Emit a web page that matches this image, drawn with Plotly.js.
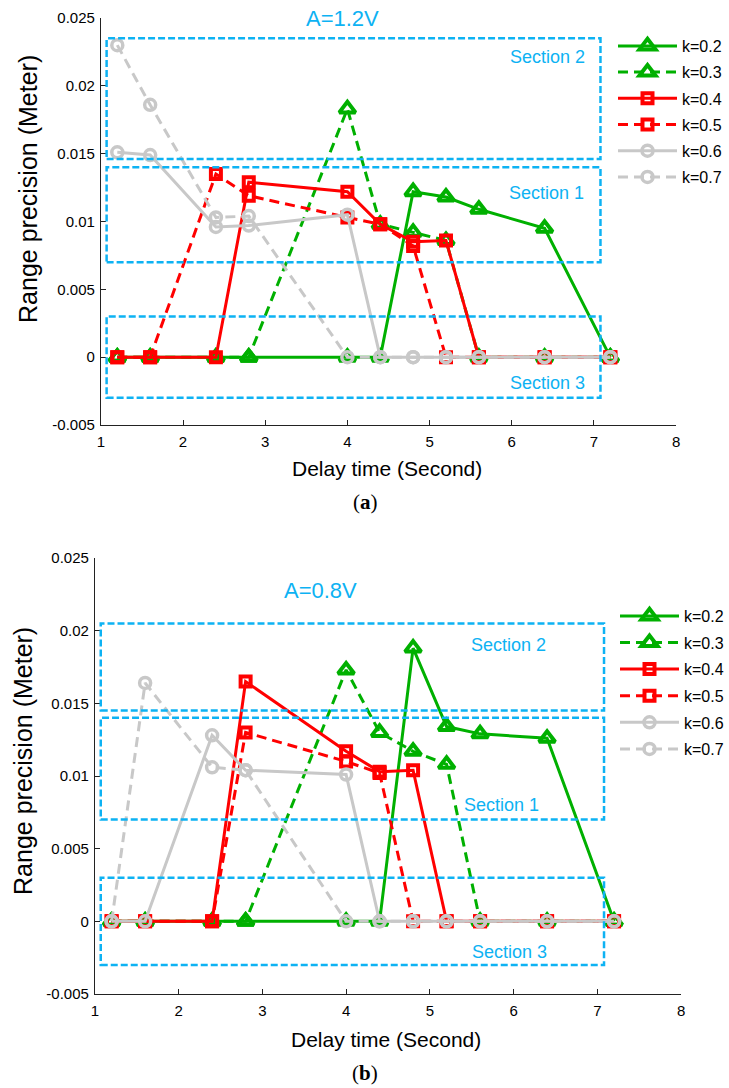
<!DOCTYPE html>
<html>
<head>
<meta charset="utf-8">
<script src="https://cdn.plot.ly/plotly-3.0.1.min.js"></script>
<style>
  html, body { margin: 0; padding: 0; background: #fff; }
  #chart { width: 729px; height: 1088px; }
</style>
</head>
<body>
<div id="chart"></div>
<script>
// Delay times (s) at which range precision was evaluated
const delayTime = [1.2, 1.6, 2.4, 2.8, 4.0, 4.4, 4.8, 5.2, 5.6, 6.4, 7.2];

// Range precision (m), amplitude A = 1.2 V
const precA_k02 = [0, 0, 0, 0, 0, 0, 0.0122, 0.0118, 0.0109, 0.0095, 0];
const precA_k03 = [0, 0, 0, 0, 0.0183, 0.0098, 0.0092, 0.0086, 0, 0, 0];
const precA_k04 = [0, 0, 0, 0.0129, 0.0122, 0.0098, 0.0085, 0.0086, 0, 0, 0];
const precA_k05 = [0, 0, 0.0135, 0.0119, 0.0103, 0.0098, 0.0082, 0, 0, 0, 0];
const precA_k06 = [0.0151, 0.0149, 0.0096, 0.0097, 0.0105, 0, 0, 0, 0, 0, 0];
const precA_k07 = [0.0230, 0.0186, 0.0103, 0.0104, 0, 0, 0, 0, 0, 0, 0];

// Range precision (m), amplitude A = 0.8 V
const precB_k02 = [0, 0, 0, 0, 0, 0, 0.0188, 0.0134, 0.0129, 0.0126, 0];
const precB_k03 = [0, 0, 0, 0, 0.0173, 0.0130, 0.0117, 0.0108, 0, 0, 0];
const precB_k04 = [0, 0, 0, 0.0165, 0.0117, 0.0103, 0.0104, 0, 0, 0, 0];
const precB_k05 = [0, 0, 0, 0.0130, 0.0110, 0.0102, 0, 0, 0, 0, 0];
const precB_k06 = [0, 0, 0.0128, 0.0104, 0.0101, 0, 0, 0, 0, 0, 0];
const precB_k07 = [0, 0.0164, 0.0106, 0.0104, 0, 0, 0, 0, 0, 0, 0];

const seriesNames = ['k=0.2', 'k=0.3', 'k=0.4', 'k=0.5', 'k=0.6', 'k=0.7'];

// Precision bands [low, high] for Section 1, 2, 3
const sectionNames = ['Section 1', 'Section 2', 'Section 3'];
const sectionBandsA = [[0.0070, 0.0140], [0.0146, 0.0235], [-0.003, 0.003]];
const sectionBandsB = [[0.0070, 0.0140], [0.0145, 0.0205], [-0.003, 0.003]];
const sectionSpan = [1.07, 7.08];

const xTicks = [1, 2, 3, 4, 5, 6, 7, 8];
const yTicks = [-0.005, 0, 0.005, 0.01, 0.015, 0.02, 0.025];
const yTickText = ['-0.005', '0', '0.005', '0.01', '0.015', '0.02', '0.025'];

const GREEN = '#00b000', RED = '#ff0000', GREY = '#c8c8c8', BLUE = '#0db2f3';
const FONT = 'Liberation Sans, Arial, Helvetica, sans-serif';
const DASH = '10px,6px';

const styles = [
  { color: GREEN, dash: 'solid', symbol: 'triangle-up-open', size: 14, lw: 4 },
  { color: GREEN, dash: DASH,   symbol: 'triangle-up-open', size: 14, lw: 4 },
  { color: RED,   dash: 'solid', symbol: 'square-open', size: 10, lw: 4 },
  { color: RED,   dash: DASH,   symbol: 'square-open', size: 10, lw: 4 },
  { color: GREY,  dash: 'solid', symbol: 'circle-open', size: 11, lw: 3.5 },
  { color: GREY,  dash: DASH,   symbol: 'circle-open', size: 11, lw: 3.5 }
];

function makeTraces(seriesList, xa, ya, legendId, tag) {
  return seriesList.map((vals, i) => ({
    type: 'scatter',
    mode: 'lines+markers',
    x: delayTime,
    y: vals,
    name: seriesNames[i],
    xaxis: xa, yaxis: ya,
    legend: legendId,
    legendgroup: tag + i,
    line: { color: styles[i].color, width: 3, dash: styles[i].dash },
    marker: {
      symbol: styles[i].symbol, size: styles[i].size, color: styles[i].color,
      line: { color: styles[i].color, width: styles[i].lw }
    },
    cliponaxis: false
  }));
}

const traces = [].concat(
  makeTraces([precA_k02, precA_k03, precA_k04, precA_k05, precA_k06, precA_k07], 'x', 'y', 'legend', 'a'),
  makeTraces([precB_k02, precB_k03, precB_k04, precB_k05, precB_k06, precB_k07], 'x2', 'y2', 'legend2', 'b')
);

function sectionShapes(bands, xref, yref) {
  return bands.map(b => ({
    type: 'rect', xref: xref, yref: yref,
    x0: sectionSpan[0], x1: sectionSpan[1], y0: b[0], y1: b[1],
    line: { color: BLUE, width: 2.5, dash: '7px,3px' },
    fillcolor: 'rgba(0,0,0,0)', layer: 'above'
  }));
}

function xAxis(domain, anchor) {
  return {
    domain: domain, anchor: anchor, range: [1, 8],
    tickmode: 'array', tickvals: xTicks, ticks: 'inside', ticklen: 5,
    tickcolor: '#222', showline: true, linecolor: '#222', linewidth: 1,
    showgrid: false, zeroline: false, ticklabelstandoff: 3,
    tickfont: { family: FONT, size: 15, color: '#000' }
  };
}
function yAxis(domain, anchor) {
  return {
    domain: domain, anchor: anchor, range: [-0.005, 0.025],
    tickmode: 'array', tickvals: yTicks, ticktext: yTickText, ticks: 'inside', ticklen: 5,
    tickcolor: '#222', showline: true, linecolor: '#222', linewidth: 1,
    showgrid: false, zeroline: false, ticklabelstandoff: 2,
    tickfont: { family: FONT, size: 15, color: '#000' }
  };
}

function label(text, x, y, xref, yref, size, extra) {
  return Object.assign({
    text: text, x: x, y: y, xref: xref, yref: yref, showarrow: false,
    xanchor: 'center', yanchor: 'middle',
    font: { family: FONT, size: size, color: BLUE }
  }, extra || {});
}
const BLACK_TITLE = { family: FONT, size: 21, color: '#000' };
const SERIF = { family: 'Liberation Serif, Times New Roman, serif', size: 21, color: '#000' };

const annotations = [
  label('A=1.2V', 3.94, 0.025, 'x', 'y', 22),
  label(sectionNames[1], 6.43, 0.0221, 'x', 'y', 18),
  label(sectionNames[0], 6.42, 0.0121, 'x', 'y', 18),
  label(sectionNames[2], 6.43, -0.0019, 'x', 'y', 18),
  label('A=0.8V', 3.70, 0.02275, 'x2', 'y2', 22),
  label(sectionNames[1], 5.94, 0.0190, 'x2', 'y2', 18),
  label(sectionNames[0], 5.86, 0.0080, 'x2', 'y2', 18),
  label(sectionNames[2], 5.95, -0.0021, 'x2', 'y2', 18),
  // axis titles
  label('Range precision (Meter)', 28 / 729, 1 - 189 / 1088, 'paper', 'paper', 25,
        { textangle: -90, font: { family: FONT, size: 25, color: '#000' } }),
  label('Range precision (Meter)', 23 / 729, 1 - 761 / 1088, 'paper', 'paper', 25,
        { textangle: -90, font: { family: FONT, size: 25, color: '#000' } }),
  label('Delay time (Second)', 388 / 729, 1 - 468 / 1088, 'paper', 'paper', 21, { font: BLACK_TITLE }),
  label('Delay time (Second)', 387 / 729, 1 - 1039 / 1088, 'paper', 'paper', 21, { font: BLACK_TITLE }),
  // panel captions
  label('(<b>a</b>)', 366 / 729, 1 - 502 / 1088, 'paper', 'paper', 21, { font: SERIF }),
  label('(<b>b</b>)', 366 / 729, 1 - 1073 / 1088, 'paper', 'paper', 21, { font: SERIF })
];

const legendStyle = {
  bgcolor: 'rgba(0,0,0,0)', borderwidth: 0, itemwidth: 59,
  font: { family: FONT, size: 16, color: '#000' },
  xanchor: 'left', yanchor: 'top', itemclick: false, itemdoubleclick: false
};

const layout = {
  width: 729, height: 1088,
  margin: { l: 0, r: 0, t: 0, b: 0 },
  paper_bgcolor: '#fff', plot_bgcolor: '#fff',
  showlegend: true,
  xaxis: xAxis([101 / 729, 677 / 729], 'y'),
  yaxis: yAxis([1 - 425 / 1088, 1 - 18 / 1088], 'x'),
  xaxis2: xAxis([95 / 729, 682 / 729], 'y2'),
  yaxis2: yAxis([1 - 994 / 1088, 1 - 558 / 1088], 'x2'),
  legend: Object.assign({ x: 613 / 729, y: 1 - 29 / 1088, tracegroupgap: 2.4 }, legendStyle),
  legend2: Object.assign({ x: 616 / 729, y: 1 - 599 / 1088, tracegroupgap: 2.8 }, legendStyle),
  shapes: [].concat(sectionShapes(sectionBandsA, 'x', 'y'), sectionShapes(sectionBandsB, 'x2', 'y2')),
  annotations: annotations
};

Plotly.newPlot('chart', traces, layout, { displayModeBar: false, responsive: false });
</script>
</body>
</html>
